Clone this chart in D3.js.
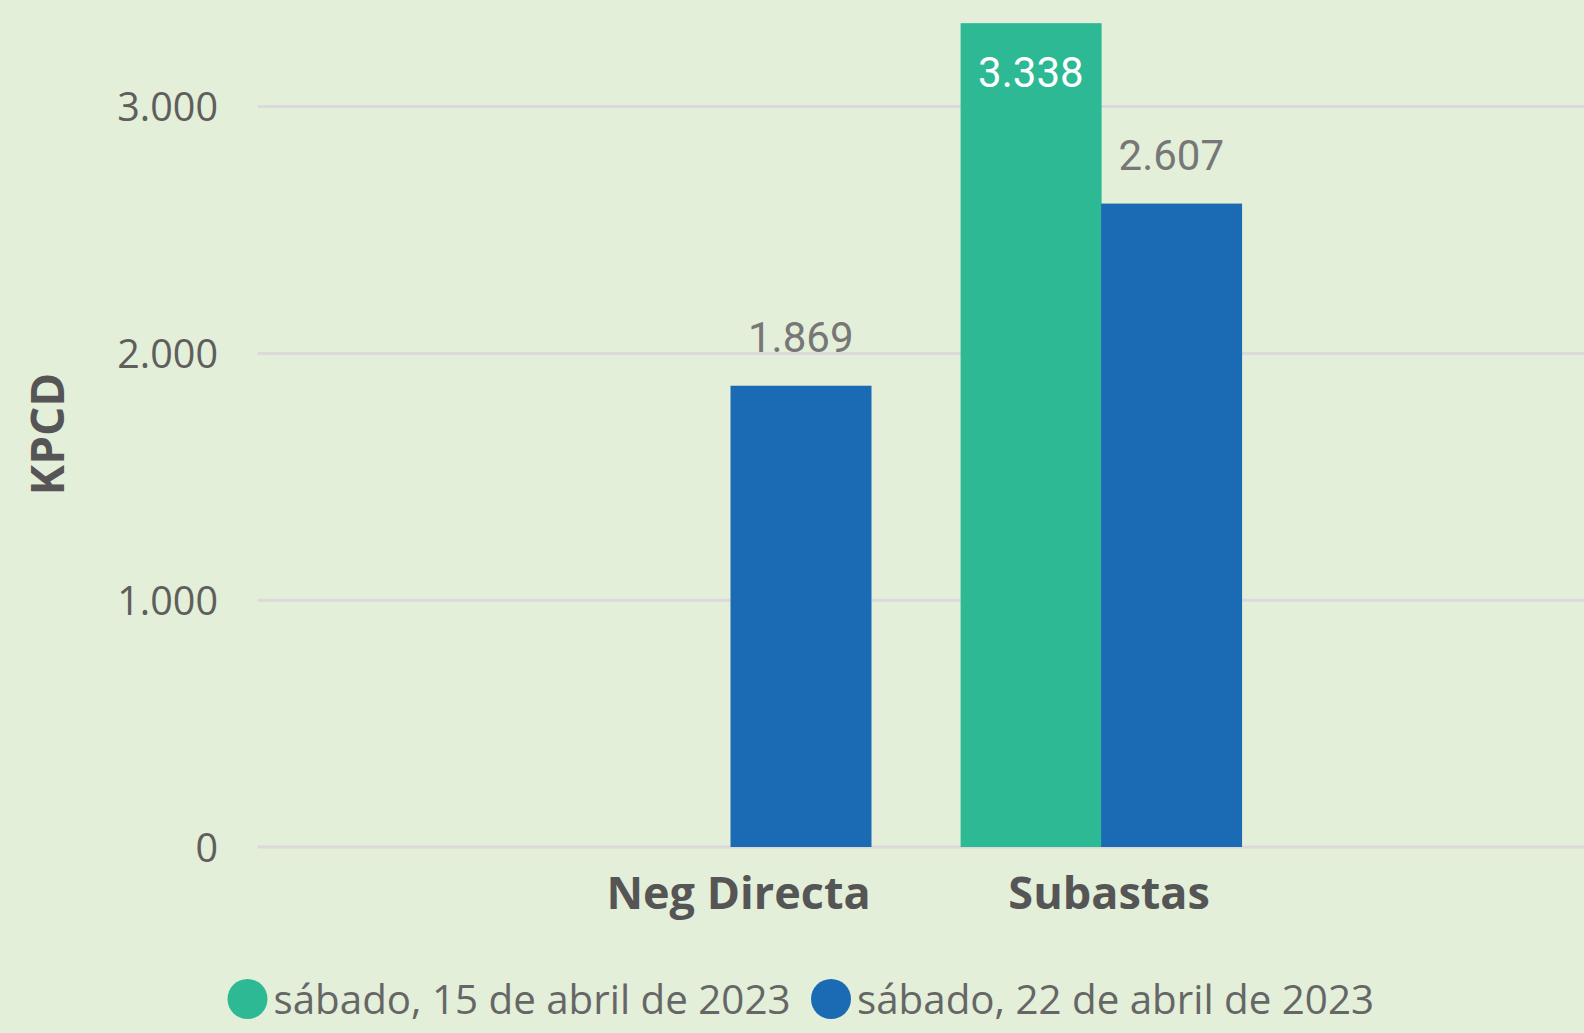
<!DOCTYPE html>
<html>
<head>
<meta charset="utf-8">
<script src="https://cdn.jsdelivr.net/npm/d3@7"></script>
<style>
  html, body { margin: 0; padding: 0; background: #e3efd9; }
  svg { display: block; }
</style>
</head>
<body>
<svg id="chart" width="1584" height="1033"></svg>
<script>
const categories = ["Neg Directa", "Subastas"];
const seriesNames = ["sábado, 15 de abril de 2023", "sábado, 22 de abril de 2023"];
const series15Abr = [null, 3338];
const series22Abr = [1869, 2607];
const yTicks = [0, 1000, 2000, 3000];
const yTickLabels = ["0", "1.000", "2.000", "3.000"];
const yTitle = "KPCD";

const W = 1584, H = 1033;
const colors = ["#2cb994", "#1a6bb4"];
const svg = d3.select("#chart");
svg.append("rect").attr("width", W).attr("height", H).attr("fill", "#e3efd9");

const y = d3.scaleLinear().domain([0, 3000]).range([847, 106.6]);
const x0 = d3.scaleBand().domain(categories).range([257.6, 1574]).paddingInner(0.2418).paddingOuter(0.897);
const x1 = d3.scaleBand().domain(seriesNames).range([0, x0.bandwidth()]).padding(0);

const fmt = v => d3.format(",")(v).replace(/,/g, ".");

// gridlines
const grid = svg.append("g");
grid.selectAll("line").data(yTicks).join("line")
  .attr("x1", 257.6).attr("x2", W)
  .attr("y1", d => y(d)).attr("y2", d => y(d))
  .attr("stroke", "#dbd9dc").attr("stroke-width", 3);

// y axis labels
const yAxis = d3.axisLeft(y).tickValues(yTicks).tickFormat((d, i) => yTickLabels[i]).tickSize(0).tickPadding(0);
const yg = svg.append("g").attr("transform", "translate(218,0)").call(yAxis);
yg.select(".domain").remove();
yg.selectAll("text").attr("font-family", "'Open Sans', sans-serif").attr("font-size", 39.5)
  .attr("fill", "#605e5c").attr("dy", "0.36em");

// y title
svg.append("text").attr("transform", "translate(64,434) rotate(-90)")
  .attr("text-anchor", "middle").attr("font-family", "'Open Sans', sans-serif")
  .attr("font-weight", "bold").attr("font-size", 46).attr("fill", "#555555").text(yTitle);

// bars
const data = [];
categories.forEach((c, i) => {
  [series15Abr, series22Abr].forEach((s, j) => {
    if (s[i] != null) data.push({ cat: c, ser: seriesNames[j], j, v: s[i] });
  });
});
svg.append("g").selectAll("rect").data(data).join("rect")
  .attr("x", d => x0(d.cat) + x1(d.ser))
  .attr("width", x1.bandwidth() + 0.5)
  .attr("y", d => y(d.v))
  .attr("height", d => y(0) - y(d.v))
  .attr("fill", d => colors[d.j]);

// data labels
svg.append("g").selectAll("text").data(data).join("text")
  .attr("x", d => x0(d.cat) + x1(d.ser) + x1.bandwidth() / 2)
  .attr("y", d => d.v > 3000 ? y(d.v) + 49 : y(d.v) - 49)
  .attr("dy", "0.36em")
  .attr("text-anchor", "middle")
  .attr("font-family", "'Liberation Sans Narrow', 'Roboto', sans-serif")
  .attr("font-size", 42)
  .attr("fill", d => d.v > 3000 ? "#ffffff" : "#777777")
  .text(d => fmt(d.v));

// x axis labels
const xAxis = d3.axisBottom(x0).tickSize(0).tickPadding(0);
const xg = svg.append("g").attr("transform", "translate(8,909)").call(xAxis);
xg.select(".domain").remove();
xg.selectAll("text").attr("font-family", "'Open Sans', sans-serif").attr("font-weight", "bold")
  .attr("font-size", 45).attr("fill", "#555555").attr("dy", "0");

// legend
const legend = svg.append("g");
const legendX = [247.5, 831];
seriesNames.forEach((n, i) => {
  legend.append("circle").attr("cx", legendX[i]).attr("cy", 999).attr("r", 20).attr("fill", colors[i]);
  legend.append("text").attr("x", legendX[i] + 26).attr("y", 999).attr("dy", "0.36em")
    .attr("font-family", "'Open Sans', sans-serif").attr("font-size", 40.3).attr("fill", "#666666").text(n);
});
</script>
</body>
</html>
